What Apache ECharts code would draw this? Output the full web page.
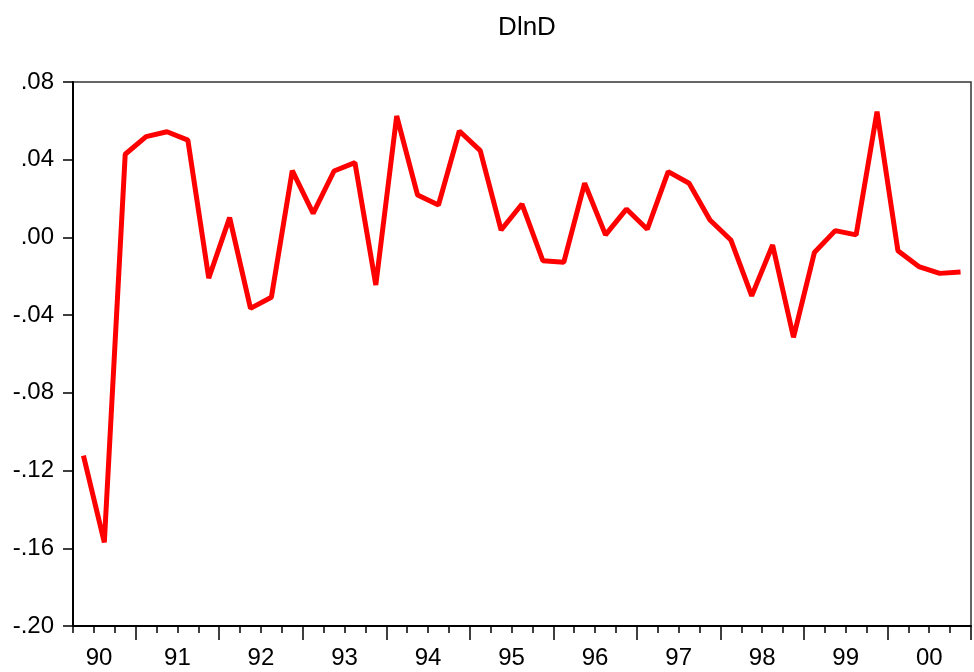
<!DOCTYPE html>
<html>
<head>
<meta charset="utf-8">
<script src="https://cdn.jsdelivr.net/npm/echarts@6/dist/echarts.min.js"></script>
<style>
html,body{margin:0;padding:0;background:#fff;}
#chart{width:974px;height:672px;}
</style>
</head>
<body>
<div id="chart"></div>
<script>
var titleText = 'DlnD';
var quarters = [
  '1990Q2','1990Q3','1990Q4',
  '1991Q1','1991Q2','1991Q3','1991Q4',
  '1992Q1','1992Q2','1992Q3','1992Q4',
  '1993Q1','1993Q2','1993Q3','1993Q4',
  '1994Q1','1994Q2','1994Q3','1994Q4',
  '1995Q1','1995Q2','1995Q3','1995Q4',
  '1996Q1','1996Q2','1996Q3','1996Q4',
  '1997Q1','1997Q2','1997Q3','1997Q4',
  '1998Q1','1998Q2','1998Q3','1998Q4',
  '1999Q1','1999Q2','1999Q3','1999Q4',
  '2000Q1','2000Q2','2000Q3','2000Q4'
];
var dlnd = [
  -0.1123, -0.1570, 0.0428,
  0.0519, 0.0544, 0.0501, -0.0210,
  0.0102, -0.0365, -0.0308, 0.0344,
  0.0124, 0.0342, 0.0385, -0.0245,
  0.0625, 0.0218, 0.0167, 0.0548,
  0.0447, 0.0038, 0.0172, -0.0120,
  -0.0128, 0.0279, 0.0013, 0.0146,
  0.0042, 0.0339, 0.0279, 0.0090,
  -0.0013, -0.0301, -0.0039, -0.0514,
  -0.0078, 0.0035, 0.0013, 0.0647,
  -0.0068, -0.0150, -0.0185, -0.0178
];
var yearLabels = ['90','91','92','93','94','95','96','97','98','99','00'];
var yTicks = {min: -0.20, max: 0.08, interval: 0.04};

var FONT = "'Liberation Sans', Arial, sans-serif";
var nQ = quarters.length;

// label position (in quarter units from left edge of axis) for each year label
function yearLabelFor(v) {
  for (var i = 0; i < yearLabels.length; i++) {
    var pos;
    if (i === 0) pos = 1.25; // first (partial) year
    else pos = 3 + (i - 1) * 4 + 2; // centre of full year
    if (Math.abs(v - pos) < 1e-6) return yearLabels[i];
  }
  return '';
}

var chart = echarts.init(document.getElementById('chart'), null, {renderer: 'canvas'});
chart.setOption({
  animation: false,
  backgroundColor: '#ffffff',
  title: {
    text: titleText,
    left: 522,
    top: 10,
    textAlign: 'center',
    textStyle: {fontFamily: FONT, fontSize: 26, fontWeight: 'normal', color: '#000'}
  },
  grid: {
    left: 73, top: 82, width: 904, height: 544,
    show: true, borderColor: '#333', borderWidth: 1.5, backgroundColor: 'transparent'
  },
  xAxis: [
    {
      type: 'category', data: quarters, boundaryGap: true, position: 'bottom',
      axisLine: {show: true, onZero: false, lineStyle: {color: '#000', width: 2}},
      axisTick: {show: true, interval: 0, length: 7, lineStyle: {color: '#000', width: 1.5}},
      axisLabel: {show: false},
      splitLine: {show: false}
    },
    {
      type: 'category', data: quarters, boundaryGap: true, position: 'bottom',
      axisLine: {show: false, onZero: false},
      axisTick: {show: true, length: 14, lineStyle: {color: '#000', width: 1.5},
        interval: function (index) { return index % 4 === 3; }},
      axisLabel: {show: false},
      splitLine: {show: false}
    },
    {
      type: 'value', min: 0, max: nQ, interval: 0.25, position: 'bottom',
      axisLine: {show: false, onZero: false},
      axisTick: {show: false},
      splitLine: {show: false},
      axisLabel: {
        show: true, margin: 20, color: '#000', fontFamily: FONT, fontSize: 24,
        showMinLabel: true, showMaxLabel: true,
        formatter: function (v) { return yearLabelFor(v); }
      }
    }
  ],
  yAxis: {
    type: 'value', min: yTicks.min, max: yTicks.max, interval: yTicks.interval,
    axisLine: {show: true, onZero: false, lineStyle: {color: '#000', width: 2}},
    axisTick: {show: true, length: 10, lineStyle: {color: '#000', width: 1.5}},
    splitLine: {show: false},
    axisLabel: {
      margin: 19, color: '#000', fontFamily: FONT, fontSize: 24,
      formatter: function (v) {
        var s = (Math.round(v * 100) / 100).toFixed(2);
        return s.replace('0.', '.');
      }
    }
  },
  series: [{
    type: 'line',
    data: dlnd,
    xAxisIndex: 0,
    yAxisIndex: 0,
    symbol: 'none',
    lineStyle: {color: '#ff0000', width: 5},
    silent: true
  }]
});
</script>
</body>
</html>
